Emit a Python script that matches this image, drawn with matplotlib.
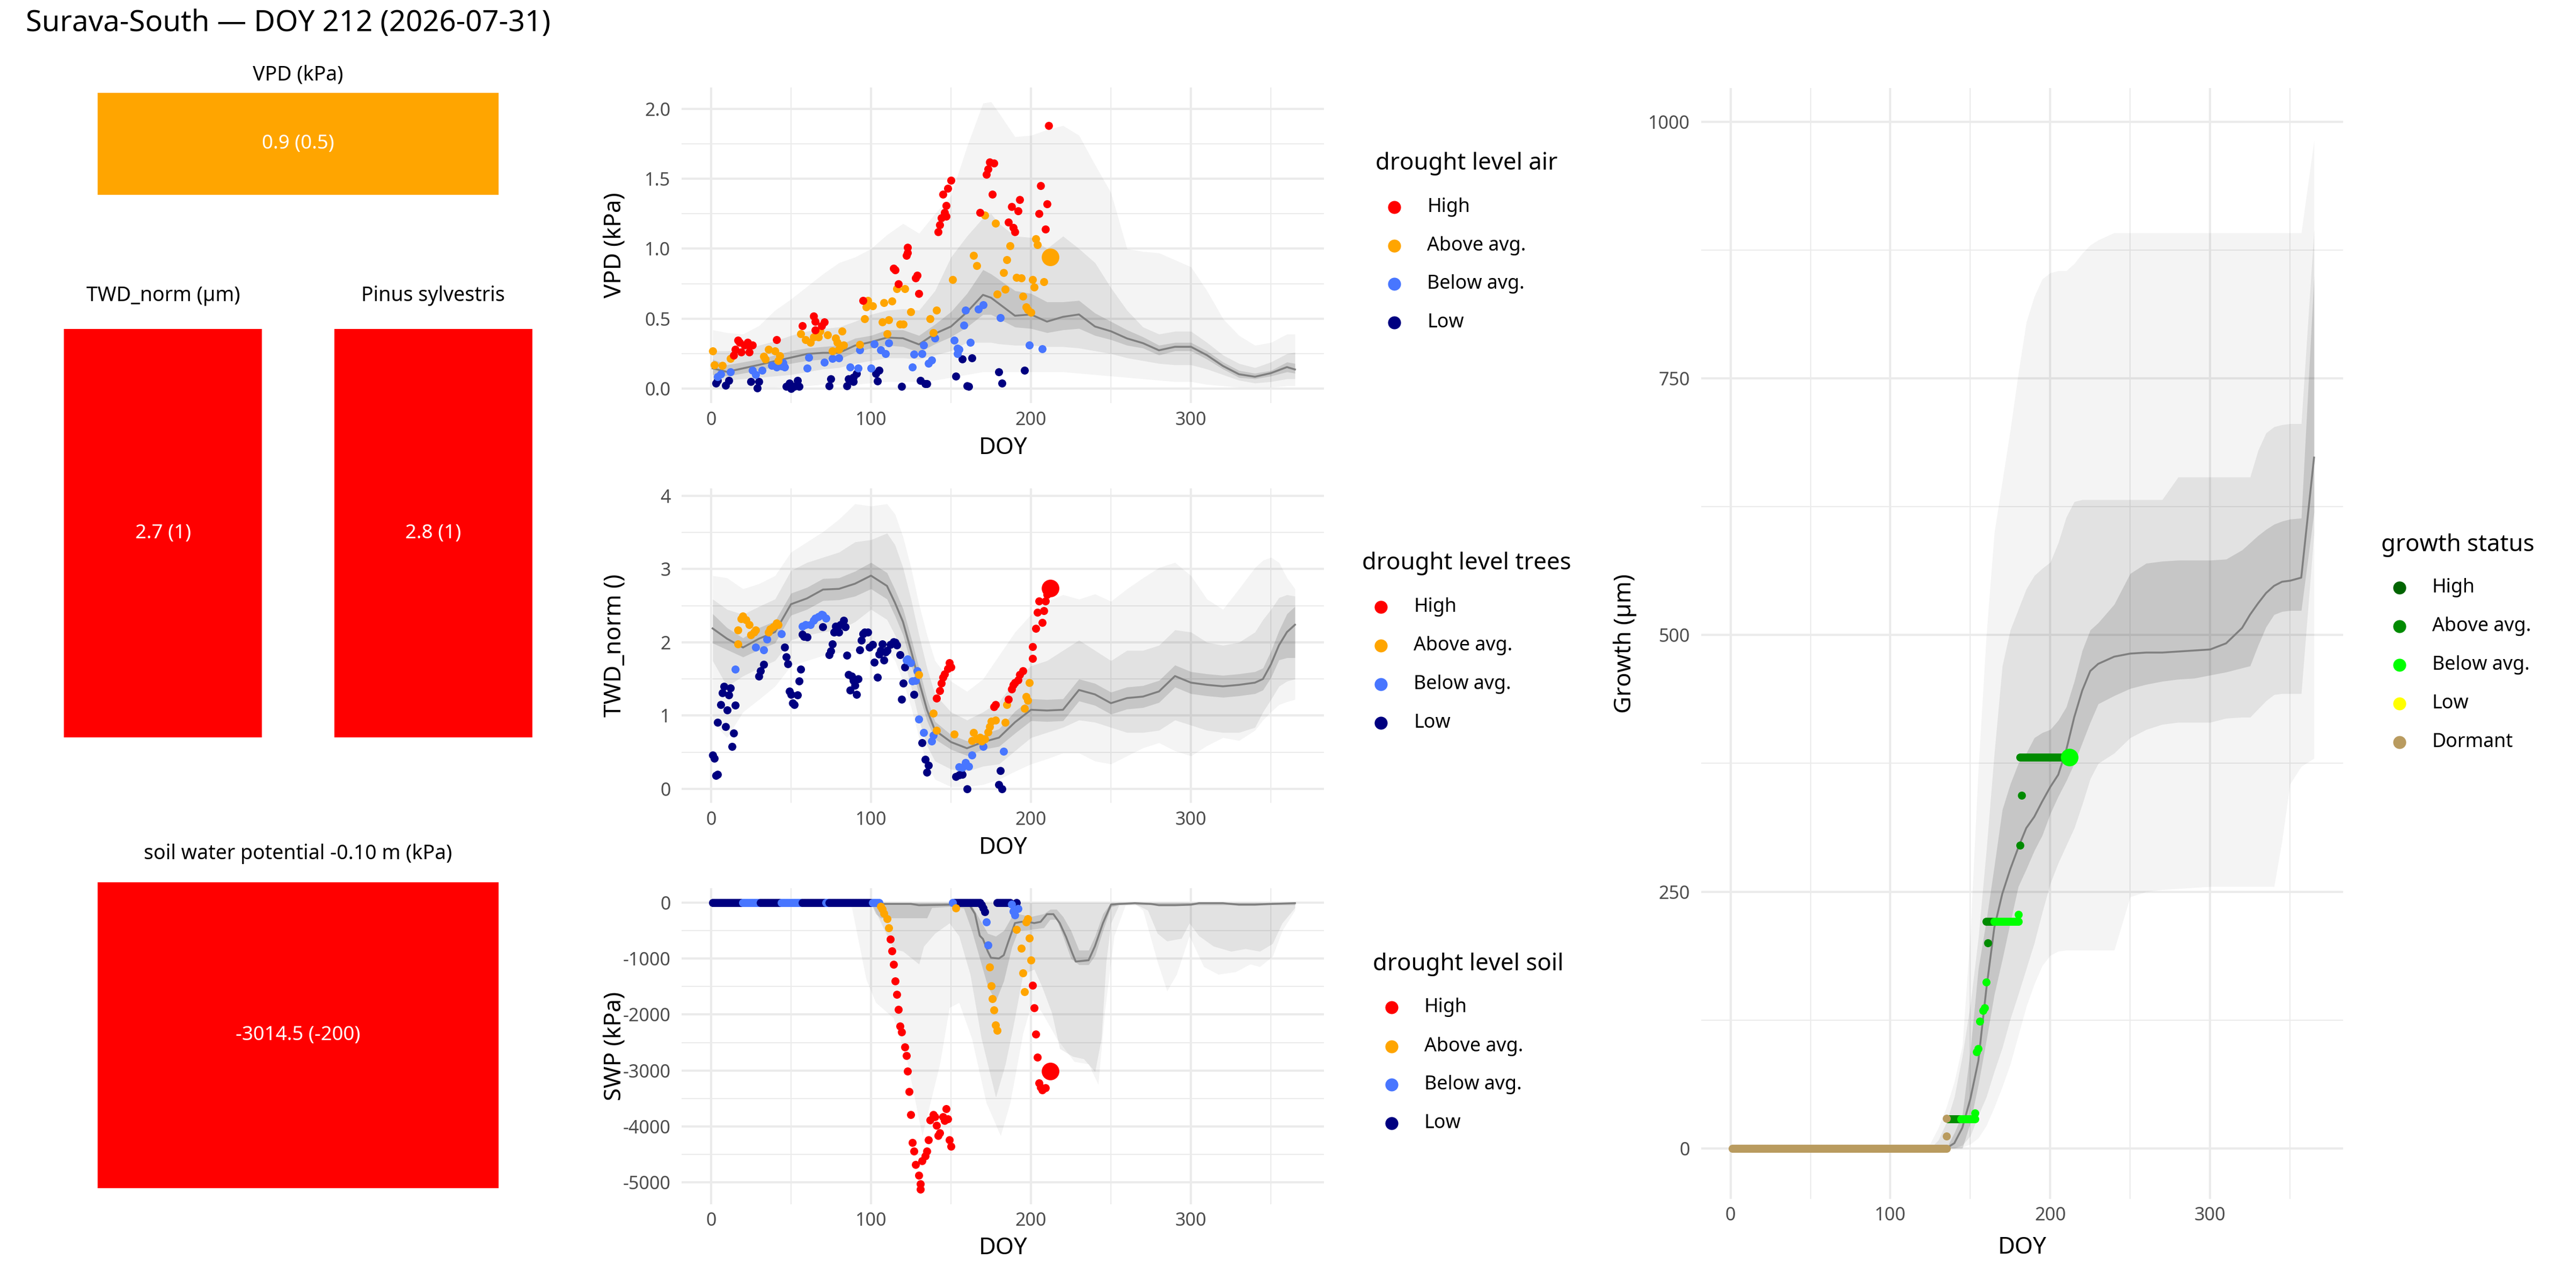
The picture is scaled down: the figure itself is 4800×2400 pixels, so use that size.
import matplotlib
matplotlib.use("Agg")
import matplotlib.pyplot as plt
from matplotlib.patches import Rectangle

plt.rcParams['font.family'] = ['Noto Sans', 'DejaVu Sans']
plt.rcParams['axes.unicode_minus'] = False

# ------------------------------------------------------------------ data
TITLE = "Surava-South \u2014 DOY 212 (2026-07-31)"
TODAY = 212
DOY_TICKS = [0, 100, 200, 300]
DOY_MINOR = [50, 150, 250, 350]

LEVELS = ["High", "Above avg.", "Below avg.", "Low"]
LEVEL_COLORS = ["#FF0000", "#FFA500", "#4876FF", "#000080"]
GROWTH_STATUS = ["High", "Above avg.", "Below avg.", "Low", "Dormant"]
GROWTH_COLORS = ["#006400", "#008B00", "#00FF00", "#FFFF00", "#B99B5F"]

# summary tiles
tile_titles = ["VPD (kPa)", "TWD_norm (\u00b5m)", "Pinus sylvestris", "soil water potential -0.10 m (kPa)"]
tile_labels = ["0.9 (0.5)", "2.7 (1)", "2.8 (1)", "-3014.5 (-200)"]
tile_levels = ["Above avg.", "High", "High", "High"]

# ---- VPD climatology bands
vpd_band_doy = [1, 10, 20, 30, 40, 50, 60, 70, 80, 90, 100, 110, 120, 130, 140, 150, 160, 170, 175, 180,
                190, 200, 210, 220, 230, 240, 250, 260, 270, 280, 290, 300, 310, 320, 330, 340, 350, 360, 365]
vpd_median = [0.145, 0.12, 0.145, 0.17, 0.197, 0.222, 0.248, 0.256, 0.256, 0.308, 0.333, 0.365, 0.36, 0.316,
              0.393, 0.444, 0.547, 0.67, 0.65, 0.607, 0.521, 0.53, 0.479, 0.513, 0.53, 0.444, 0.41, 0.359,
              0.325, 0.274, 0.299, 0.299, 0.239, 0.162, 0.103, 0.085, 0.111, 0.154, 0.137]
vpd_in_hi = [0.21, 0.17, 0.19, 0.21, 0.24, 0.27, 0.29, 0.30, 0.31, 0.36, 0.38, 0.42, 0.42, 0.38, 0.46, 0.55,
             0.68, 0.85, 0.82, 0.78, 0.70, 0.68, 0.62, 0.62, 0.63, 0.54, 0.48, 0.42, 0.37, 0.31, 0.33, 0.33,
             0.27, 0.19, 0.13, 0.11, 0.13, 0.19, 0.18]
vpd_in_lo = [0.10, 0.09, 0.11, 0.13, 0.16, 0.18, 0.20, 0.21, 0.21, 0.26, 0.29, 0.31, 0.30, 0.26, 0.32, 0.37,
             0.44, 0.53, 0.53, 0.50, 0.44, 0.43, 0.40, 0.42, 0.43, 0.38, 0.35, 0.31, 0.29, 0.24, 0.27, 0.27,
             0.21, 0.14, 0.08, 0.07, 0.09, 0.12, 0.11]
vpd_mid_hi = [0.27, 0.27, 0.28, 0.31, 0.34, 0.38, 0.41, 0.43, 0.44, 0.48, 0.53, 0.56, 0.57, 0.56, 0.70, 0.94,
              1.09, 1.22, 1.25, 1.18, 1.09, 1.08, 1.00, 1.09, 1.00, 0.90, 0.72, 0.56, 0.44, 0.39, 0.41, 0.41,
              0.33, 0.24, 0.18, 0.15, 0.19, 0.25, 0.26]
vpd_mid_lo = [0.07, 0.06, 0.07, 0.08, 0.09, 0.10, 0.12, 0.14, 0.15, 0.18, 0.20, 0.22, 0.22, 0.21, 0.24, 0.27,
              0.33, 0.33, 0.33, 0.32, 0.31, 0.31, 0.30, 0.30, 0.29, 0.27, 0.25, 0.22, 0.20, 0.18, 0.17, 0.17,
              0.14, 0.10, 0.06, 0.04, 0.05, 0.07, 0.07]
vpd_out_hi = [0.42, 0.40, 0.39, 0.45, 0.56, 0.64, 0.73, 0.82, 0.90, 0.94, 1.00, 1.10, 1.18, 1.11, 1.25, 1.38,
              1.73, 2.04, 2.05, 1.97, 1.80, 1.81, 1.85, 1.88, 1.81, 1.60, 1.40, 1.00, 0.98, 0.97, 0.92, 0.87,
              0.70, 0.50, 0.38, 0.31, 0.33, 0.39, 0.39]
vpd_out_lo = [0.0, 0.0, 0.0, 0.01, 0.01, 0.02, 0.02, 0.03, 0.03, 0.03, 0.04, 0.05, 0.05, 0.05, 0.06, 0.08,
              0.10, 0.12, 0.12, 0.12, 0.12, 0.12, 0.12, 0.12, 0.11, 0.10, 0.09, 0.08, 0.07, 0.06, 0.05, 0.05,
              0.03, 0.02, 0.01, 0.01, 0.01, 0.02, 0.02]

# ---- VPD observations by drought level
vpd_high_doy = [14, 15, 17, 18, 19, 21, 23, 23, 24, 26, 41, 57, 64, 65, 65, 69, 71, 95, 114, 115, 117, 122, 123,
                123, 128, 129, 130, 142, 143, 144, 145, 146, 147, 147, 148, 150, 168, 172, 173, 174, 176, 177,
                186, 188, 189, 190, 192, 193, 205, 206, 209, 210, 211]
vpd_high_val = [0.24, 0.28, 0.345, 0.33, 0.26, 0.31, 0.33, 0.31, 0.26, 0.31, 0.35, 0.45, 0.52, 0.48, 0.42, 0.45,
                0.475, 0.63, 0.86, 0.85, 0.75, 0.95, 1.01, 0.97, 0.79, 0.81, 0.68, 1.12, 1.17, 1.22, 1.39, 1.26,
                1.31, 1.23, 1.43, 1.49, 1.26, 1.53, 1.57, 1.62, 1.39, 1.61, 1.19, 1.30, 1.15, 1.12, 1.27, 1.35,
                1.25, 1.45, 1.14, 1.32, 1.88]
vpd_above_doy = [1, 2, 7, 12, 33, 34, 36, 40, 42, 43, 56, 59, 62, 64, 67, 68, 73, 76, 78, 79, 80, 82, 83, 93, 96,
                 97, 98, 101, 107, 108, 110, 111, 113, 116, 118, 120, 121, 125, 137, 139, 141, 151, 164, 166, 171,
                 178, 179, 183, 184, 185, 187, 191, 194, 195, 197, 198, 200, 201, 202, 203, 204, 208]
vpd_above_val = [0.27, 0.17, 0.165, 0.215, 0.23, 0.21, 0.28, 0.27, 0.20, 0.235, 0.39, 0.35, 0.33, 0.37, 0.37,
                 0.41, 0.385, 0.27, 0.36, 0.33, 0.28, 0.41, 0.31, 0.315, 0.50, 0.585, 0.63, 0.59, 0.475, 0.615,
                 0.39, 0.49, 0.625, 0.715, 0.46, 0.46, 0.715, 0.55, 0.50, 0.40, 0.56, 0.78, 0.95, 0.88, 1.24,
                 1.18, 0.675, 0.83, 0.71, 0.92, 1.02, 0.795, 0.79, 0.66, 0.585, 0.565, 0.545, 0.78, 0.725, 1.07,
                 1.03, 0.765]
vpd_below_doy = [4, 6, 12, 26, 28, 32, 38, 41, 44, 45, 46, 60, 61, 71, 76, 80, 87, 92, 93, 100, 102, 106, 109,
                 111, 126, 127, 132, 133, 136, 138, 140, 152, 154, 154, 155, 158, 159, 162, 167, 170, 181, 199, 207]
vpd_below_val = [0.085, 0.105, 0.12, 0.13, 0.10, 0.13, 0.165, 0.155, 0.16, 0.185, 0.155, 0.145, 0.225, 0.19,
                 0.215, 0.22, 0.155, 0.145, 0.275, 0.145, 0.32, 0.275, 0.25, 0.325, 0.155, 0.245, 0.25, 0.31,
                 0.18, 0.205, 0.36, 0.345, 0.29, 0.25, 0.28, 0.455, 0.56, 0.33, 0.57, 0.60, 0.505, 0.31, 0.285]
vpd_low_doy = [3, 4, 9, 11, 25, 29, 30, 47, 49, 50, 52, 54, 55, 74, 75, 85, 86, 89, 89, 91, 104, 103, 105, 119,
               131, 134, 135, 153, 157, 160, 161, 163, 180, 182, 196]
vpd_low_val = [0.04, 0.06, 0.025, 0.06, 0.05, 0.005, 0.05, 0.015, 0.04, 0.0, 0.015, 0.06, 0.015, 0.02, 0.07,
               0.02, 0.07, 0.05, 0.08, 0.11, 0.055, 0.11, 0.13, 0.015, 0.06, 0.035, 0.035, 0.09, 0.21, 0.02,
               0.015, 0.22, 0.12, 0.04, 0.13]
vpd_today_val, vpd_today_level = 0.94, "Above avg."

# ---- TWD climatology bands
twd_band_doy = [1, 10, 20, 30, 40, 50, 60, 70, 80, 90, 100, 110, 115, 120, 125, 130, 135, 140, 150, 160, 170,
                180, 190, 200, 210, 220, 230, 240, 250, 260, 270, 280, 290, 300, 310, 320, 330, 340, 345, 350,
                355, 360, 365]
twd_median = [2.19, 2.05, 1.93, 2.05, 2.14, 2.52, 2.60, 2.72, 2.73, 2.80, 2.91, 2.77, 2.54, 2.28, 1.89, 1.47,
              1.08, 0.80, 0.64, 0.555, 0.64, 0.70, 0.91, 1.08, 1.07, 1.08, 1.35, 1.29, 1.17, 1.24, 1.26, 1.33,
              1.54, 1.45, 1.42, 1.40, 1.42, 1.45, 1.50, 1.70, 1.96, 2.14, 2.24]
twd_in_hi = [2.39, 2.20, 2.06, 2.20, 2.29, 2.67, 2.75, 2.87, 2.88, 2.97, 3.09, 2.95, 2.72, 2.46, 2.07, 1.65,
             1.23, 0.92, 0.74, 0.655, 0.74, 0.82, 1.06, 1.23, 1.22, 1.23, 1.50, 1.44, 1.32, 1.39, 1.41, 1.48,
             1.69, 1.60, 1.57, 1.55, 1.57, 1.60, 1.65, 1.88, 2.16, 2.39, 2.49]
twd_in_lo = [1.99, 1.90, 1.80, 1.90, 1.99, 2.37, 2.45, 2.57, 2.58, 2.63, 2.73, 2.59, 2.36, 2.10, 1.71, 1.29,
             0.93, 0.68, 0.54, 0.455, 0.54, 0.58, 0.76, 0.93, 0.92, 0.93, 1.20, 1.14, 1.02, 1.09, 1.11, 1.18,
             1.39, 1.30, 1.27, 1.25, 1.27, 1.30, 1.35, 1.52, 1.76, 1.79, 1.79]
twd_mid_hi = [2.59, 2.45, 2.38, 2.49, 2.59, 2.98, 3.09, 3.16, 3.23, 3.37, 3.40, 3.49, 3.33, 3.02, 2.59, 2.10,
              1.65, 1.29, 1.05, 0.94, 1.05, 1.19, 1.47, 1.68, 1.75, 1.89, 2.03, 1.89, 1.75, 1.89, 1.89, 1.96,
              2.17, 2.14, 2.00, 1.96, 2.00, 2.14, 2.31, 2.45, 2.61, 2.65, 2.63]
twd_mid_lo = [1.75, 1.40, 1.54, 1.65, 1.75, 2.03, 2.10, 2.14, 2.17, 2.28, 2.45, 2.31, 2.10, 1.82, 1.40, 0.94,
              0.59, 0.38, 0.27, 0.24, 0.31, 0.34, 0.52, 0.70, 0.77, 0.84, 0.94, 0.91, 0.84, 0.77, 0.77, 0.80,
              0.94, 0.87, 0.80, 0.77, 0.77, 0.84, 1.05, 1.22, 1.40, 1.47, 1.50]
twd_out_hi = [2.91, 2.88, 2.73, 2.80, 2.91, 3.23, 3.37, 3.51, 3.68, 3.89, 3.86, 3.89, 3.75, 3.44, 3.02, 2.52,
              2.10, 1.75, 1.47, 1.33, 1.50, 1.82, 2.14, 2.38, 2.56, 2.65, 2.59, 2.66, 2.56, 2.73, 2.88, 3.02,
              3.09, 2.91, 2.59, 2.45, 2.73, 3.02, 3.12, 3.16, 3.09, 2.88, 2.73]
twd_out_lo = [0.91, 0.70, 1.05, 1.22, 1.40, 1.68, 1.75, 1.82, 1.86, 1.89, 1.93, 1.89, 1.75, 1.47, 1.12, 0.70,
              0.34, 0.13, 0.03, 0.03, 0.06, 0.13, 0.24, 0.34, 0.41, 0.49, 0.49, 0.38, 0.34, 0.45, 0.56, 0.63,
              0.52, 0.45, 0.59, 0.70, 0.66, 0.80, 0.94, 1.05, 1.15, 1.19, 1.22]

# ---- TWD observations by drought level
twd_high_doy = [141, 143, 144, 145, 146, 148, 149, 150, 177, 178, 186, 188, 189, 190, 192, 193, 195, 201, 201,
                203, 204, 205, 207, 208, 209, 210]
twd_high_val = [1.24, 1.34, 1.44, 1.52, 1.57, 1.64, 1.72, 1.66, 1.12, 1.15, 1.22, 1.36, 1.42, 1.45, 1.49, 1.56,
                1.61, 1.78, 1.94, 2.19, 2.41, 2.56, 2.27, 2.43, 2.56, 2.65]
twd_above_doy = [17, 17, 19, 20, 22, 24, 25, 27, 28, 36, 37, 39, 41, 42, 130, 139, 141, 152, 163, 164, 166, 168,
                 169, 171, 173, 174, 175, 178, 184, 185, 196, 197, 198, 199]
twd_above_val = [1.98, 2.17, 2.32, 2.36, 2.31, 2.24, 2.10, 2.14, 2.17, 2.14, 2.18, 2.21, 2.26, 2.24, 1.56, 1.03,
                 0.80, 0.75, 0.66, 0.77, 0.68, 0.70, 0.65, 0.68, 0.78, 0.85, 0.92, 0.94, 0.91, 1.15, 1.10, 1.26,
                 1.21, 1.45]
twd_below_doy = [15, 28, 33, 35, 44, 57, 59, 62, 64, 65, 67, 69, 70, 72, 122, 123, 125, 126, 128, 129, 130, 133,
                 138, 139, 155, 157, 159, 161, 163, 170, 183]
twd_below_val = [1.63, 1.93, 1.90, 2.04, 2.12, 2.22, 2.24, 2.24, 2.30, 2.33, 2.35, 2.38, 2.37, 2.33, 1.76, 1.77,
                 1.72, 1.47, 1.48, 1.61, 0.95, 0.77, 0.65, 0.73, 0.30, 0.29, 0.36, 0.31, 0.46, 0.58, 0.51]
twd_low_doy = [1, 2, 3, 4, 4, 6, 7, 8, 9, 10, 11, 12, 13, 14, 15, 30, 31, 33, 46, 47, 48, 49, 50, 51, 52, 54,
               55, 56, 57, 58, 60, 70, 74, 75, 76, 77, 78, 80, 81, 83, 84, 85, 86, 87, 88, 89, 90, 91, 92, 93, 94,
               95, 96, 98, 99, 101, 102, 104, 105, 106, 107, 108, 109, 110, 112, 114, 115, 116, 118, 119, 120,
               121, 127, 132, 134, 135, 136, 153, 155, 157, 160, 180, 181, 182]
twd_low_val = [0.46, 0.42, 0.18, 0.20, 0.91, 1.15, 1.31, 1.40, 0.85, 1.08, 1.28, 1.38, 0.58, 0.76, 1.14, 1.54,
               1.61, 1.70, 1.93, 1.80, 1.71, 1.33, 1.29, 1.17, 1.15, 1.28, 1.47, 1.63, 2.11, 2.08, 2.07, 2.21,
               1.83, 1.88, 1.98, 2.14, 2.22, 2.14, 2.24, 2.30, 2.21, 1.82, 1.56, 1.35, 1.54, 1.48, 1.41, 1.29,
               1.50, 1.90, 2.03, 2.12, 2.14, 2.14, 1.93, 1.97, 1.73, 1.52, 1.84, 1.89, 1.98, 1.76, 1.87, 1.89,
               1.97, 2.01, 2.00, 1.96, 1.83, 1.22, 1.44, 1.66, 1.29, 0.63, 0.40, 0.23, 0.32, 0.17, 0.19, 0.20,
               0.00, 0.06, 0.25, 0.00]
twd_today_val, twd_today_level = 2.74, "High"

# ---- SWP climatology bands (upper edge of outer / middle band is 0 kPa)
swp_out_doy = [1, 85, 88, 97, 103, 114, 123, 132, 143, 149, 155, 163, 172, 181, 187, 195, 201, 207, 216, 227,
               236, 242, 246, 252, 259, 265, 270, 279, 285, 291, 299, 308, 317, 328, 337, 343, 351, 357, 365]
swp_out_lo = [0, 0, -92, -1374, -1786, -2060, -2885, -4167, -2885, -1877, -1786, -2427, -3572, -4167, -3572,
              -2335, -1740, -1969, -2427, -2839, -2885, -3251, -1969, -595, -46, -23, -137, -1053, -1580, -1282,
              -595, -1145, -1282, -1236, -1099, -1145, -962, -504, -137]
swp_mid_doy = [1, 98, 101, 114, 120, 126, 130, 133, 140, 149, 155, 162, 169, 178, 184, 189, 195, 202, 207, 213,
               218, 226, 233, 240, 244, 247, 250, 255, 265, 273, 279, 285, 294, 299, 305, 314, 325, 334, 343, 351,
               357, 365]
swp_mid_lo = [0, 0, -50, -824, -870, -1007, -1099, -780, -549, -366, -595, -1282, -2427, -3480, -2885, -2198,
              -1282, -1190, -1511, -1969, -2610, -2747, -2793, -3022, -2427, -1053, -366, -46, -23, -137, -549,
              -687, -640, -366, -595, -778, -870, -824, -870, -733, -366, -92]
swp_in_doy = [1, 100, 103, 106, 135, 138, 150, 158, 163, 168, 173, 178, 183, 188, 192, 200, 208, 212, 216, 220,
              225, 230, 236, 240, 245, 250, 255, 365]
swp_in_lo = [0, -10, -200, -275, -275, -90, -70, -100, -500, -1000, -1500, -1760, -1400, -800, -500, -480, -450,
             -300, -300, -600, -1000, -1110, -1110, -950, -500, -80, -40, -40]
swp_in_hi = [0, 0, 0, 0, 0, 0, 0, 0, -50, -300, -550, -600, -500, -250, -200, -250, -200, -120, -120, -250,
             -500, -850, -850, -600, -200, 0, 0, 0]
swp_med_doy = [1, 100, 103, 106, 125, 130, 145, 150, 155, 160, 162, 165, 168, 170, 173, 175, 180, 183, 186, 190,
               194, 198, 202, 206, 210, 214, 218, 222, 226, 228, 236, 240, 245, 250, 255, 265, 275, 280, 290, 300,
               305, 320, 330, 340, 350, 365]
swp_median = [0, 0, -10, -23, -23, -46, -40, -37, -23, -30, -60, -200, -590, -650, -870, -985, -998, -939, -687,
              -366, -343, -343, -366, -343, -206, -206, -366, -618, -916, -1053, -1030, -778, -366, -37, -23,
              -10, -23, -46, -46, -37, -10, -10, -37, -37, -23, -10]

# ---- SWP observations: runs of days at ~0 kPa, then single days
swp_run_start = [1, 20, 31, 44, 57, 72, 74, 101, 152, 179]
swp_run_end = [19, 30, 43, 56, 71, 73, 100, 105, 168, 187]
swp_run_level = ["Low", "Below avg.", "Low", "Below avg.", "Low", "Below avg.", "Low", "Below avg.", "Low", "Low"]
swp_high_doy = [112, 113, 114, 115, 116, 117, 118, 119, 121, 122, 123, 124, 125, 126, 127, 128, 130, 131, 131,
                132, 134, 135, 136, 137, 139, 140, 141, 142, 143, 145, 146, 147, 148, 149, 150, 201, 202, 203,
                204, 205, 206, 207, 209]
swp_high_val = [-650, -861, -1099, -1397, -1639, -1914, -2207, -2312, -2578, -2738, -3013, -3379, -3791, -4291,
                -4442, -4680, -4877, -5028, -5119, -4616, -4524, -4442, -4236, -3883, -3791, -3823, -3984, -4158,
                -4112, -3823, -3892, -3686, -3869, -4236, -4350, -1474, -1877, -2349, -2761, -3219, -3297, -3343,
                -3311]
swp_above_doy = [106, 107, 108, 110, 111, 153, 174, 175, 176, 177, 178, 179, 191, 194, 195, 196, 197, 198, 199, 200]
swp_above_val = [-69, -114, -192, -284, -449, -100, -1154, -1488, -1717, -1923, -2189, -2280, -481, -815, -1259,
                 -1594, -343, -284, -632, -1030]
swp_below_doy = [151, 172, 173, 188, 189, 190, 192]
swp_below_val = [0, -343, -755, -30, -150, -220, -110]
swp_low_doy = [169, 170, 171, 191]
swp_low_val = [-40, -100, -160, 0]
swp_today_val, swp_today_level = -3014.5, "High"

# ---- Growth climatology bands
gro_band_doy = [1, 120, 125, 130, 135, 140, 145, 150, 155, 160, 165, 170, 175, 180, 185, 190, 195, 200, 205, 210,
                215, 220, 225, 230, 240, 250, 260, 270, 280, 290, 300, 310, 320, 325, 330, 335, 340, 345, 350,
                357, 365]
gro_median = [0, 0, 0, 0, 0, 5, 20, 48, 85, 155, 215, 248, 272, 293, 312, 323, 338, 352, 364, 388, 420, 446, 465,
              472, 479, 482, 483, 483, 484, 485, 486, 492, 507, 520, 531, 541, 548, 552, 553, 556, 673]
gro_in_hi = [0, 0, 0, 0, 0, 15, 33, 95, 175, 222, 275, 330, 355, 375, 385, 400, 405, 408, 417, 430, 455, 485,
             505, 512, 530, 560, 570, 572, 573, 573, 573, 574, 583, 590, 597, 603, 608, 611, 613, 614, 850]
gro_in_lo = [0, 0, 0, 0, 0, 0, 0, 25, 62, 105, 150, 184, 220, 255, 272, 290, 305, 326, 343, 358, 375, 395, 415,
             433, 441, 448, 452, 455, 457, 458, 461, 464, 468, 470, 490, 508, 520, 523, 524, 524, 620]
gro_mid_hi = [0, 0, 0, 8, 25, 50, 90, 140, 205, 290, 385, 470, 505, 525, 545, 558, 565, 571, 590, 615, 630, 632,
              632, 632, 632, 632, 632, 632, 654, 654, 654, 654, 654, 654, 680, 697, 703, 705, 706, 706, 895]
gro_mid_lo = [0, 0, 0, 0, 0, 0, 3, 12, 32, 50, 75, 98, 126, 150, 175, 200, 230, 258, 278, 295, 312, 335, 360,
              375, 385, 400, 408, 413, 415, 415, 415, 419, 420, 420, 428, 436, 442, 443, 443, 443, 600]
gro_out_hi = [0, 0, 5, 20, 40, 65, 100, 210, 370, 500, 600, 650, 700, 755, 805, 830, 847, 853, 855, 855, 862,
              872, 880, 885, 892, 892, 892, 892, 892, 892, 892, 892, 892, 892, 892, 892, 892, 892, 892, 892, 982]
gro_out_lo = [0, 0, 0, 0, 0, 0, 1, 4, 10, 22, 40, 60, 82, 110, 138, 160, 178, 188, 192, 193, 193, 193, 193, 193,
              193, 245, 250, 252, 253, 254, 255, 255, 255, 255, 255, 255, 255, 300, 355, 372, 380]

# ---- Growth observations: runs of equal values, then single days
gro_run_start = [1, 136, 144, 160, 165, 181]
gro_run_end = [135, 143, 153, 164, 180, 208]
gro_run_val = [0, 28.6, 28.6, 221, 221, 381]
gro_run_status = ["Dormant", "Above avg.", "Below avg.", "Above avg.", "Below avg.", "Above avg."]
gro_pt_doy = [135, 135, 153, 154, 155, 156, 158, 159, 160, 161, 180, 181, 182]
gro_pt_val = [12, 29, 34.6, 93.7, 97, 124, 134, 137, 162, 200, 228, 295, 344]
gro_pt_status = ["Dormant", "Dormant", "Below avg.", "Below avg.", "Below avg.", "Below avg.", "Below avg.",
                 "Below avg.", "Below avg.", "Above avg.", "Below avg.", "Above avg.", "Above avg."]
gro_today_val, gro_today_status = 381, "Below avg."

# ------------------------------------------------------------------ layout helpers
W, H = 1568.0, 784.0
fig = plt.figure(figsize=(16, 8), dpi=300)
fig.patch.set_facecolor("white")


def add_ax(x0, y0, x1, y1):
    return fig.add_axes([x0 / W, 1 - y1 / H, (x1 - x0) / W, (y1 - y0) / H])


def lvl_color(level):
    return LEVEL_COLORS[LEVELS.index(level)]


def gro_color(status):
    return GROWTH_COLORS[GROWTH_STATUS.index(status)]


GRID = "#EBEBEB"
TICKC = "#4D4D4D"
MEDC = "#7F7F7F"
PT_S = 13
TODAY_S = 62
A_OUT, A_MID, A_IN = 0.043, 0.070, 0.123


def style(ax, ylim, yt, ytl, ym, ylabel, xlab_y, ylab_x):
    ax.set_xlim(-18.25, 383.25)
    ax.set_ylim(*ylim)
    ax.set_xticks(DOY_TICKS)
    ax.set_xticklabels([str(t) for t in DOY_TICKS])
    ax.set_xticks(DOY_MINOR, minor=True)
    ax.set_yticks(yt)
    ax.set_yticklabels(ytl)
    ax.set_yticks(ym, minor=True)
    ax.grid(True, which="major", color=GRID, lw=1.0)
    ax.grid(True, which="minor", color=GRID, lw=0.5)
    ax.set_axisbelow(True)
    for sp in ax.spines.values():
        sp.set_visible(False)
    ax.tick_params(axis="both", which="both", length=0, labelsize=8.2, labelcolor=TICKC)
    ax.tick_params(axis="y", pad=5)
    ax.tick_params(axis="x", pad=3.5)
    ax.set_facecolor("none")
    ax.set_xlabel("DOY", fontsize=10.5)
    ax.xaxis.label.set_va("center")
    ax.xaxis.set_label_coords(0.5, xlab_y)
    ax.set_ylabel(ylabel, fontsize=10.5)
    ax.yaxis.label.set_va("center")
    ax.yaxis.set_label_coords(ylab_x, 0.5)


def bands(ax, doy, olo, ohi, mlo, mhi, ilo, ihi):
    ax.fill_between(doy, olo, ohi, color="black", alpha=A_OUT, lw=0)
    ax.fill_between(doy, mlo, mhi, color="black", alpha=A_MID, lw=0)
    ax.fill_between(doy, ilo, ihi, color="black", alpha=A_IN, lw=0)


# ------------------------------------------------------------------ VPD panel
ax_vpd = add_ax(415.0, 53.2, 806.0, 245.3)
bands(ax_vpd, vpd_band_doy, vpd_out_lo, vpd_out_hi, vpd_mid_lo, vpd_mid_hi, vpd_in_lo, vpd_in_hi)
ax_vpd.plot(vpd_band_doy, vpd_median, color=MEDC, lw=0.85, zorder=2)
for d, v, lv in [(vpd_low_doy, vpd_low_val, "Low"), (vpd_below_doy, vpd_below_val, "Below avg."),
                 (vpd_above_doy, vpd_above_val, "Above avg."), (vpd_high_doy, vpd_high_val, "High")]:
    ax_vpd.scatter(d, v, s=PT_S, color=lvl_color(lv), lw=0, zorder=3)
ax_vpd.scatter([TODAY], [vpd_today_val], s=TODAY_S, color=lvl_color(vpd_today_level), lw=0, zorder=4)
style(ax_vpd, (-0.1025, 2.1525), [0, 0.5, 1.0, 1.5, 2.0], ["0.0", "0.5", "1.0", "1.5", "2.0"],
      [0.25, 0.75, 1.25, 1.75], "VPD (kPa)", -0.143, -0.104)

# ------------------------------------------------------------------ TWD panel
ax_twd = add_ax(415.0, 297.3, 806.0, 488.7)
bands(ax_twd, twd_band_doy, twd_out_lo, twd_out_hi, twd_mid_lo, twd_mid_hi, twd_in_lo, twd_in_hi)
ax_twd.plot(twd_band_doy, twd_median, color=MEDC, lw=0.85, zorder=2)
for d, v, lv in [(twd_low_doy, twd_low_val, "Low"), (twd_below_doy, twd_below_val, "Below avg."),
                 (twd_above_doy, twd_above_val, "Above avg."), (twd_high_doy, twd_high_val, "High")]:
    ax_twd.scatter(d, v, s=PT_S, color=lvl_color(lv), lw=0, zorder=3)
ax_twd.scatter([TODAY], [twd_today_val], s=TODAY_S, color=lvl_color(twd_today_level), lw=0, zorder=4)
style(ax_twd, (-0.19, 4.1), [0, 1, 2, 3, 4], ["0", "1", "2", "3", "4"], [0.5, 1.5, 2.5, 3.5],
      "TWD_norm ()", -0.144, -0.104)

# ------------------------------------------------------------------ SWP panel
ax_swp = add_ax(415.0, 540.7, 806.0, 732.9)
ax_swp.fill_between(swp_out_doy, swp_out_lo, [0] * len(swp_out_doy), color="black", alpha=A_OUT, lw=0)
ax_swp.fill_between(swp_mid_doy, swp_mid_lo, [0] * len(swp_mid_doy), color="black", alpha=A_MID, lw=0)
ax_swp.fill_between(swp_in_doy, swp_in_lo, swp_in_hi, color="black", alpha=A_IN, lw=0)
ax_swp.plot(swp_med_doy, swp_median, color=MEDC, lw=0.85, zorder=2)
for s0, s1, lv in zip(swp_run_start, swp_run_end, swp_run_level):
    days = list(range(s0, s1 + 1))
    ax_swp.scatter(days, [0] * len(days), s=PT_S, color=lvl_color(lv), lw=0, zorder=3)
for d, v, lv in [(swp_low_doy, swp_low_val, "Low"), (swp_below_doy, swp_below_val, "Below avg."),
                 (swp_above_doy, swp_above_val, "Above avg."), (swp_high_doy, swp_high_val, "High")]:
    ax_swp.scatter(d, v, s=PT_S, color=lvl_color(lv), lw=0, zorder=3)
ax_swp.scatter([TODAY], [swp_today_val], s=TODAY_S, color=lvl_color(swp_today_level), lw=0, zorder=4)
style(ax_swp, (-5386, 256), [-5000, -4000, -3000, -2000, -1000, 0],
      ["-5000", "-4000", "-3000", "-2000", "-1000", "0"], [-4500, -3500, -2500, -1500, -500],
      "SWP (kPa)", -0.140, -0.104)

# ------------------------------------------------------------------ Growth panel
ax_gro = add_ax(1035.6, 53.6, 1426.3, 729.7)
bands(ax_gro, gro_band_doy, gro_out_lo, gro_out_hi, gro_mid_lo, gro_mid_hi, gro_in_lo, gro_in_hi)
ax_gro.plot(gro_band_doy, gro_median, color=MEDC, lw=0.85, zorder=2)
for s0, s1, v, st in zip(gro_run_start, gro_run_end, gro_run_val, gro_run_status):
    days = list(range(s0, s1 + 1))
    ax_gro.scatter(days, [v] * len(days), s=PT_S, color=gro_color(st), lw=0, zorder=3)
for d, v, st in zip(gro_pt_doy, gro_pt_val, gro_pt_status):
    ax_gro.scatter([d], [v], s=PT_S, color=gro_color(st), lw=0, zorder=3)
ax_gro.scatter([TODAY], [gro_today_val], s=TODAY_S, color=gro_color(gro_today_status), lw=0, zorder=4)
style(ax_gro, (-49.2, 1033), [0, 250, 500, 750, 1000], ["0", "250", "500", "750", "1000"],
      [125, 375, 625, 875], "Growth (\u00b5m)", -0.044, -0.1185)

# ------------------------------------------------------------------ overlay: title, tiles, legends
ov = fig.add_axes([0, 0, 1, 1])
ov.set_xlim(0, W)
ov.set_ylim(H, 0)
ov.axis("off")

ov.text(15.6, 14.2, TITLE, fontsize=13.1, ha="left", va="center")

tile_boxes = [(59.4, 56.6, 303.6, 118.6), (39.0, 200.3, 159.5, 449.0),
              (203.5, 200.3, 324.0, 449.0), (59.4, 537.0, 303.6, 723.3)]
tile_title_y = [45.5, 180.0, 180.0, 519.7]
for (x0, y0, x1, y1), ttl, lab, lv, ty in zip(tile_boxes, tile_titles, tile_labels, tile_levels, tile_title_y):
    ov.add_patch(Rectangle((x0, y0), x1 - x0, y1 - y0, facecolor=lvl_color(lv), edgecolor="none"))
    ov.text((x0 + x1) / 2, (y0 + y1) / 2, lab, color="white", fontsize=8.8, ha="center", va="center")
    ov.text((x0 + x1) / 2, ty, ttl, fontsize=9.0, ha="center", va="center")


def legend(title, x_title, y_title, x_mark, x_text, ys, labels, colors):
    ov.text(x_title, y_title, title, fontsize=10.5, ha="left", va="center")
    for y, lab, c in zip(ys, labels, colors):
        ov.plot([x_mark], [y], "o", ms=5.8, color=c, mew=0)
        ov.text(x_text, y, lab, fontsize=8.6, ha="left", va="center")


legend("drought level air", 837.3, 99.5, 848.7, 868.7, [126.0, 149.5, 172.9, 196.4], LEVELS, LEVEL_COLORS)
legend("drought level trees", 829.1, 343.1, 840.5, 860.5, [369.4, 393.1, 416.5, 440.0], LEVELS, LEVEL_COLORS)
legend("drought level soil", 835.5, 586.9, 846.9, 866.9, [613.2, 636.9, 660.3, 683.8], LEVELS, LEVEL_COLORS)
legend("growth status", 1449.3, 331.8, 1460.4, 1480.3, [357.8, 381.2, 404.8, 428.2, 451.7],
       GROWTH_STATUS, GROWTH_COLORS)

fig.savefig("out.png", dpi=300, facecolor="white")
